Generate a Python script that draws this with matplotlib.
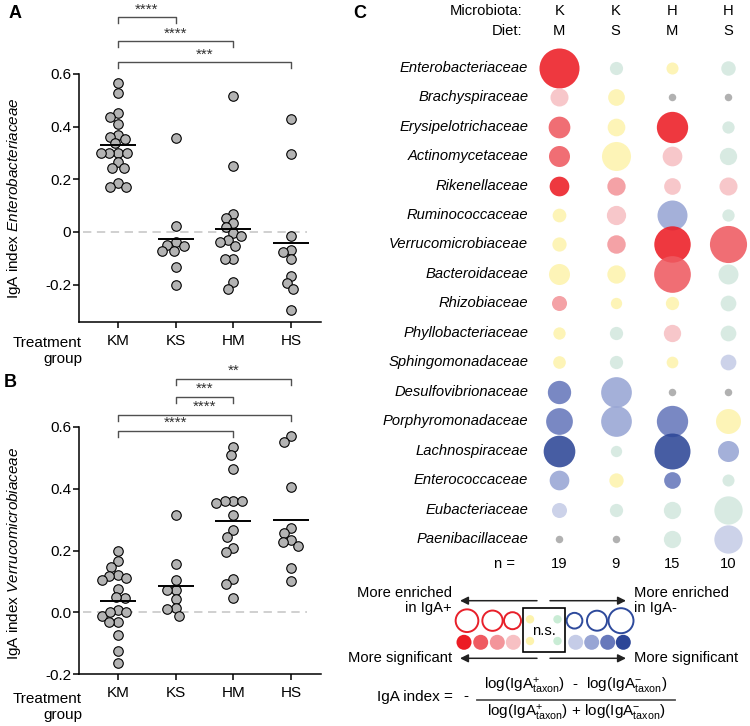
import numpy as np
import matplotlib
matplotlib.use("Agg")
import matplotlib.pyplot as plt
from matplotlib.patches import Circle, Rectangle

plt.rcParams['font.family'] = ['Liberation Sans', 'DejaVu Sans']
plt.rcParams['mathtext.fontset'] = 'custom'
plt.rcParams['mathtext.rm'] = 'Liberation Sans'
plt.rcParams['mathtext.it'] = 'Liberation Sans:italic'
plt.rcParams['mathtext.bf'] = 'Liberation Sans:bold'
plt.rcParams['lines.scale_dashes'] = False

W, H = 750, 726

# ---------------- data ----------------
groups = ["KM", "KS", "HM", "HS"]

# Panel A: IgA index Enterobacteriaceae
entero_KM = [0.565, 0.527, 0.453, 0.438, 0.409, 0.368, 0.362, 0.352, 0.337, 0.300,
             0.300, 0.300, 0.300, 0.267, 0.242, 0.242, 0.185, 0.172, 0.172]
entero_KS = [0.356, 0.024, -0.039, -0.052, -0.048, -0.072, -0.071, -0.134, -0.200]
entero_HM = [0.518, 0.250, 0.068, 0.052, 0.035, 0.018, -0.003, -0.014, -0.030,
             -0.039, -0.053, -0.102, -0.102, -0.190, -0.215]
entero_HS = [0.429, 0.296, -0.015, -0.068, -0.075, -0.104, -0.167, -0.195, -0.216, -0.296]
stars_A = [("KM", "KS", "****"), ("KM", "HM", "****"), ("KM", "HS", "***")]

# Panel B: IgA index Verrucomicrobiaceae
verruco_KM = [0.197, 0.165, 0.148, 0.121, 0.117, 0.106, 0.112, 0.076, 0.047, 0.049,
              0.009, -0.011, 0.002, 0.002, -0.030, -0.030, -0.072, -0.124, -0.165]
verruco_KS = [0.314, 0.155, 0.105, 0.073, 0.073, 0.043, 0.014, 0.012, -0.011]
verruco_HM = [0.535, 0.508, 0.463, 0.360, 0.360, 0.355, 0.360, 0.316, 0.265, 0.245,
              0.209, 0.195, 0.108, 0.092, 0.045]
verruco_HS = [0.569, 0.551, 0.405, 0.272, 0.258, 0.233, 0.228, 0.215, 0.145, 0.100]
stars_B = [("KS", "HS", "**"), ("KS", "HM", "***"), ("KM", "HS", "****"), ("KM", "HM", "****")]

# Panel C: bubble chart
taxa = ["Enterobacteriaceae", "Brachyspiraceae", "Erysipelotrichaceae", "Actinomycetaceae",
        "Rikenellaceae", "Ruminococcaceae", "Verrucomicrobiaceae", "Bacteroidaceae",
        "Rhizobiaceae", "Phyllobacteriaceae", "Sphingomonadaceae", "Desulfovibrionaceae",
        "Porphyromonadaceae", "Lachnospiraceae", "Enterococcaceae", "Eubacteriaceae",
        "Paenibacillaceae"]
microbiota = ["K", "K", "H", "H"]
diet = ["M", "S", "M", "S"]
n_mice = [19, 9, 15, 10]
nan = np.nan
idx_KM = [0.331, 0.081, 0.123, 0.115, 0.100, 0.032, 0.038, 0.115, 0.047, 0.016, 0.020,
          -0.141, -0.180, -0.236, -0.100, -0.047, nan]
idx_KS = [-0.026, 0.066, 0.077, 0.206, 0.084, 0.095, 0.086, 0.084, 0.005, -0.027, -0.027,
          -0.225, -0.225, -0.005, 0.039, -0.027, nan]
idx_HM = [0.013, nan, 0.232, 0.100, 0.066, -0.217, 0.290, 0.293, 0.027, 0.073, 0.009,
          nan, -0.232, -0.285, -0.066, -0.073, -0.073]
idx_HS = [-0.041, nan, -0.016, -0.073, 0.081, -0.016, 0.298, -0.103, -0.055, -0.055, -0.055,
          nan, 0.160, -0.115, -0.013, -0.198, -0.198]
sig_KM = [4, 1, 3, 3, 4, 0, 0, 0, 2, 0, 0, 3, 3, 4, 2, 1, 0]
sig_KS = [0, 0, 0, 0, 2, 1, 2, 0, 0, 0, 0, 2, 2, 0, 0, 0, 0]
sig_HM = [0, 0, 4, 1, 1, 2, 4, 3, 0, 1, 0, 0, 3, 4, 3, 0, 0]
sig_HS = [0, 0, 0, 0, 1, 0, 3, 0, 0, 0, 1, 0, 0, 2, 0, 0, 1]

# ---------------- styles ----------------
red_levels = ['#f7c0c3', '#f3959a', '#ef5a61', '#ec1c24']
blue_levels = ['#c5cce7', '#98a5d4', '#6778bb', '#2d4697']
ns_pos, ns_neg, absent_col = '#fdf3ad', '#d3e8df', '#a6a6a6'

fig = plt.figure(figsize=(W / 100, H / 100), dpi=100)


def fx(x):
    return x / W


def fy(y):
    return 1 - y / H


def swarm(ax, xc, vals, d):
    t = ax.transData
    x0 = t.transform((xc, 0))[0]
    pxu = t.transform((xc + 1, 0))[0] - x0
    ys = np.array([t.transform((xc, v))[1] for v in vals])
    order = np.argsort(-ys, kind='stable')
    placed = []
    xs = np.zeros(len(vals))
    for i in order:
        y = ys[i]
        cands = [0.0]
        for (px, py) in placed:
            dy = y - py
            if abs(dy) < d:
                dx = np.sqrt(d * d - dy * dy)
                cands += [px + dx, px - dx]
        cands = sorted(cands, key=lambda c: (abs(c), c))
        c = cands[0]
        for c in cands:
            if all((c - px) ** 2 + (y - py) ** 2 >= d * d - 1e-6 for px, py in placed):
                break
        placed.append((c, y))
        xs[i] = xc + c / pxu
    return xs


def strip_panel(ax, data, ylim, yticks, yticklabels, brackets, br_levels):
    ax.set_xlim(-0.676, 3.52)
    ax.set_ylim(*ylim)
    for i, vals in enumerate(data):
        xs = swarm(ax, i, vals, 8.6)
        ax.scatter(xs, vals, s=47, facecolor='#b3b3b3', edgecolor='black',
                   linewidth=0.8, zorder=3, clip_on=False)
        m = np.mean(vals)
        ax.plot([i - 0.31, i + 0.31], [m, m], color='black', lw=1.4, zorder=4,
                solid_capstyle='butt')
    ax.plot([-0.61, 3.28], [0, 0], color='#c8c8c8', lw=1.2, ls=(0, (6, 4)), zorder=1)
    for sp in ['top', 'right']:
        ax.spines[sp].set_visible(False)
    for sp in ['left', 'bottom']:
        ax.spines[sp].set_linewidth(1.1)
    ax.set_yticks(yticks)
    ax.set_yticklabels(yticklabels, fontsize=11)
    ax.set_xticks(range(len(groups)))
    ax.set_xticklabels(groups, fontsize=11)
    ax.tick_params(axis='y', direction='out', length=4, width=1.1, pad=1.5)
    ax.tick_params(axis='x', direction='out', length=4.5, width=1.1, pad=4)
    # significance brackets
    t = ax.transData
    pxv = t.transform((0, 1))[1] - t.transform((0, 0))[1]
    drop = 6 / pxv
    for (g1, g2, s), yl in zip(brackets, br_levels):
        x1, x2 = groups.index(g1), groups.index(g2)
        ax.plot([x1, x1, x2, x2], [yl - drop, yl, yl, yl - drop], color='#505050',
                lw=1.0, clip_on=False)
        ax.text((x1 + x2) / 2, yl + 4 / pxv, s, ha='center', va='baseline',
                fontsize=11, color='#303030', clip_on=False)


# Panel A
axA = fig.add_axes([fx(79), fy(322), fx(242), 248 / H])
strip_panel(axA, [entero_KM, entero_KS, entero_HM, entero_HS], (-0.342, 0.6),
            [-0.2, 0, 0.2, 0.4, 0.6], ['-0.2', '0', '0.2', '0.4', '0.6'],
            stars_A, [0.815, 0.724, 0.644])
fig.text(fx(14), fy(198), r'IgA index $\mathit{Enterobacteriaceae}$', rotation=90,
         ha='center', va='center', fontsize=11)
fig.text(fx(82), fy(351), 'Treatment\ngroup', ha='right', va='center',
         multialignment='right', fontsize=11, linespacing=1.1)
fig.text(fx(15), fy(13), 'A', ha='center', va='center', fontsize=13, fontweight='bold')

# Panel B
axB = fig.add_axes([fx(79), fy(674.3), fx(242), 247.6 / H])
strip_panel(axB, [verruco_KM, verruco_KS, verruco_HM, verruco_HS], (-0.2, 0.6),
            [-0.2, 0.0, 0.2, 0.4, 0.6], ['-0.2', '0.0', '0.2', '0.4', '0.6'],
            stars_B, [0.755, 0.697, 0.638, 0.586])
fig.text(fx(14), fy(553), r'IgA index $\mathit{Verrucomicrobiaceae}$', rotation=90,
         ha='center', va='center', fontsize=11)
fig.text(fx(82), fy(707), 'Treatment\ngroup', ha='right', va='center',
         multialignment='right', fontsize=11, linespacing=1.1)
fig.text(fx(10), fy(383), 'B', ha='center', va='center', fontsize=13, fontweight='bold')

# Panel C
axC = fig.add_axes([fx(531.1), fy(53 + 500.7), fx(225.2), 500.7 / H])
axC.set_xlim(-0.5, 3.5)
axC.set_ylim(16.5, -0.5)
axC.axis('off')


def diam_px(v):
    return 10.9 + 88 * abs(v)


def bubble_color(v, s):
    if np.isnan(v):
        return absent_col
    if s == 0:
        return ns_pos if v > 0 else ns_neg
    return red_levels[s - 1] if v > 0 else blue_levels[s - 1]


cols_idx = [idx_KM, idx_KS, idx_HM, idx_HS]
cols_sig = [sig_KM, sig_KS, sig_HM, sig_HS]
for r in range(len(taxa)):
    for c in range(4):
        v = cols_idx[c][r]
        s = cols_sig[c][r]
        d = 7.5 if np.isnan(v) else diam_px(v)
        axC.scatter([c], [r], s=(d * 0.72) ** 2, color=bubble_color(v, s),
                    alpha=0.88, linewidths=0, clip_on=False, zorder=2)
    axC.text(-0.55, r, taxa[r], ha='right', va='center', fontsize=10.6, style='italic')

axC.text(-0.65, -1.925, 'Microbiota:', ha='right', va='center', fontsize=10.6)
axC.text(-0.65, -1.246, 'Diet:', ha='right', va='center', fontsize=10.6)
for c in range(4):
    axC.text(c, -1.925, microbiota[c], ha='center', va='center', fontsize=10.6)
    axC.text(c, -1.246, diet[c], ha='center', va='center', fontsize=10.6)
    axC.text(c, 16.86, str(n_mice[c]), ha='center', va='center', fontsize=10.6)
axC.text(-0.787, 16.86, 'n =', ha='right', va='center', fontsize=10.6)
fig.text(fx(360), fy(13), 'C', ha='center', va='center', fontsize=13, fontweight='bold')

# Legend and formula (overlay in pixel coordinates)
ov = fig.add_axes([0, 0, 1, 1])
ov.set_xlim(0, W)
ov.set_ylim(H, 0)
ov.axis('off')
ov.patch.set_visible(False)

arrow_kw = dict(arrowstyle='-|>', color='#222222', lw=1.1, mutation_scale=12,
                shrinkA=0, shrinkB=0)
for yy in [600.7, 658.3]:
    ov.annotate('', xy=(460, yy), xytext=(537, yy), arrowprops=arrow_kw)
    ov.annotate('', xy=(626, yy), xytext=(550, yy), arrowprops=arrow_kw)
ov.text(451.7, 600.5, 'More enriched\nin IgA+', ha='right', va='center',
        multialignment='right', fontsize=10.6, linespacing=1.1)
ov.text(634, 600.5, 'More enriched\nin IgA-', ha='left', va='center',
        multialignment='left', fontsize=10.6, linespacing=1.1)
ov.text(451.7, 658.3, 'More significant', ha='right', va='center', fontsize=10.6)
ov.text(634, 658.3, 'More significant', ha='left', va='center', fontsize=10.6)

for cx, d in [(467, 22.7), (492.5, 20.3), (512.5, 17)]:
    ov.add_patch(Circle((cx, 620.7), d / 2, fill=False, ec='#e8202a', lw=1.4))
for cx, d in [(574.5, 15.7), (597, 20), (621, 25)]:
    ov.add_patch(Circle((cx, 620.7), d / 2, fill=False, ec='#2e4a9c', lw=1.4))
for k, cx in enumerate([464, 480.7, 497.3, 513.3]):
    ov.add_patch(Circle((cx, 642.3), 7.5, color=red_levels[3 - k], lw=0))
for k, cx in enumerate([575.7, 591.7, 607.7, 623.3]):
    ov.add_patch(Circle((cx, 642.3), 7.5, color=blue_levels[k], lw=0))
for yy in [619.3, 641]:
    ov.add_patch(Circle((530, yy), 4.2, color=ns_pos, lw=0))
    ov.add_patch(Circle((557.5, yy), 4.2, color='#c9ecd5', lw=0))
ov.add_patch(Rectangle((522.7, 607.7), 42.3, 44.6, fill=False, ec='black', lw=1.2))
ov.text(543.5, 631, 'n.s.', ha='center', va='center', fontsize=10.6)

ov.text(376.7, 697, 'IgA index =', ha='left', va='center', fontsize=11)
ov.text(466, 696, '-', ha='center', va='center', fontsize=11)
ov.text(576, 686, r'log(IgA$^{+}_{\mathrm{taxon}}$)  -  log(IgA$^{-}_{\mathrm{taxon}}$)',
        ha='center', va='center', fontsize=11)
ov.plot([477, 675], [700, 700], color='#555555', lw=1.3)
ov.text(576, 713, r'log(IgA$^{+}_{\mathrm{taxon}}$) + log(IgA$^{-}_{\mathrm{taxon}}$)',
        ha='center', va='center', fontsize=11)

fig.savefig('out.png', dpi=100)
